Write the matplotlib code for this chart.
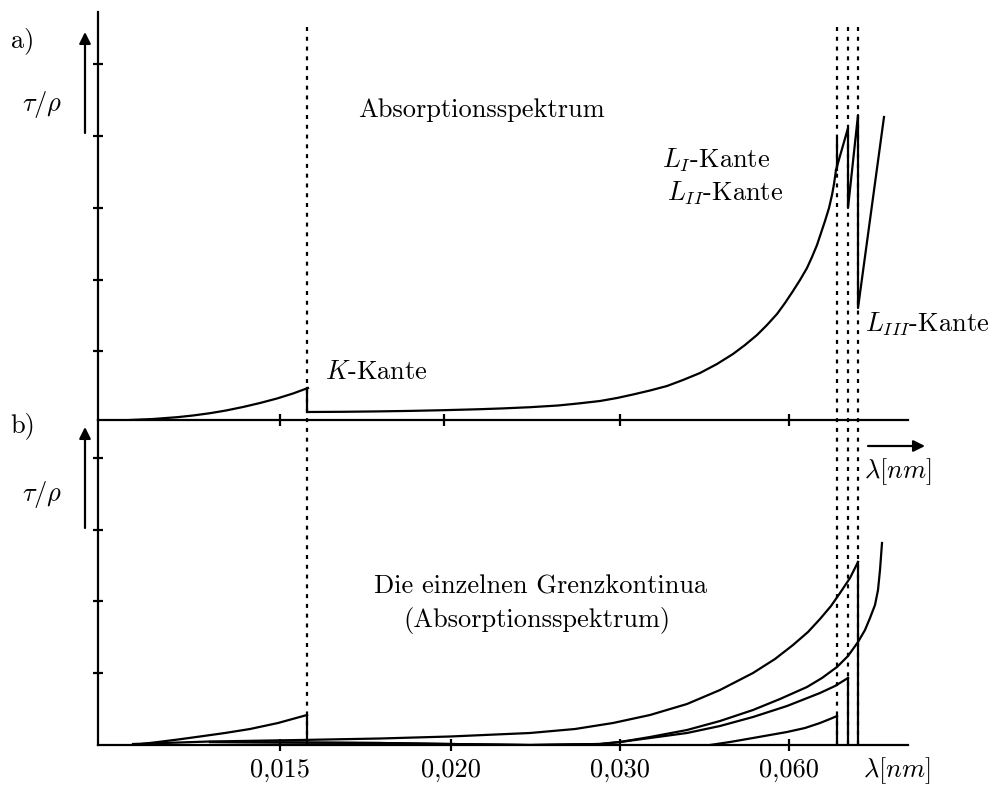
import matplotlib
matplotlib.use("Agg")
import matplotlib.pyplot as plt

plt.rcParams['font.family'] = ['cmr10', 'DejaVu Serif']
plt.rcParams['mathtext.fontset'] = 'cm'
plt.rcParams['axes.unicode_minus'] = False

# ---- schematic units: x = position along wavelength axis, y = tau/rho (arbitrary) ----
# tick positions / labels
xtick_pos_top = [182, 346, 522, 691]
xtick_pos_bot = [182, 353, 522, 691]
xtick_labels = ["0,015", "0,020", "0,030", "0,060"]
ytick_top = [69, 140, 212, 284, 356]
ytick_bot = [72, 144, 215, 287]

# edges
edge_K = 209
edges_L = [739, 750, 760]

# (a) total absorption spectrum
pre_K_x = [32, 55, 79, 95, 112, 128, 145, 162, 179, 195, 210]
pre_K_y = [0, 1, 2.8, 4.5, 6.8, 9.5, 13, 17, 21.5, 26.5, 32]
post_K_x = [210, 245, 280, 312, 345, 379, 405, 432, 460, 480, 502, 519, 535, 552, 569, 585,
            602, 619, 635, 647, 659, 669, 679, 687, 695, 702, 709, 714, 719, 723, 727, 731,
            734, 736, 738]
post_K_y = [8, 8.2, 8.6, 9.1, 9.8, 10.7, 11.6, 12.8, 14.5, 16.5, 19, 22, 25.5, 29.5, 34, 40,
            47, 56, 66, 75, 85, 95, 106, 117, 129, 140, 152, 163, 175, 187, 199, 212,
            225, 236, 250]
LI_jump_y = [250, 281]
zig_x = [738, 750, 750, 760, 760, 786]
zig_y = [250, 292, 212, 305, 112, 303]

# (b) individual continua
K_x = [35, 60, 80, 102, 127, 152, 180, 209]
K_y = [0, 3, 5.5, 8.5, 12, 16, 22, 30]
LIII_x = [35, 112, 202, 282, 352, 432, 477, 515, 552, 589, 622, 655, 677, 695, 710, 722,
          733, 742, 752, 760]
LIII_y = [1, 3.5, 5, 6.5, 8.5, 12, 16, 22, 30, 41, 55, 72, 86, 100, 113, 126,
          139, 152, 167, 183]
M_x = [112, 282, 352, 432, 502, 522, 552, 589, 622, 655, 682, 709, 724, 739, 750, 760,
       767, 772, 777, 780, 782, 784]
M_y = [3, 2, 1, 0, 1, 3, 8, 15, 24, 35, 46, 58, 67, 78, 89, 103,
       115, 127, 140, 155, 175, 202]
LII_x = [112, 282, 352, 432, 502, 522, 552, 589, 622, 655, 689, 722, 737, 750]
LII_y = [3, 2, 1, 0, 1, 3, 7, 12, 19, 28, 39, 52, 59, 67]
LI_x = [612, 632, 655, 672, 689, 707, 722, 732, 739]
LI_y = [0, 3, 7, 10, 13, 17, 22, 26, 29]

W, H = 996, 788
fig = plt.figure(figsize=(W / 100, H / 100), dpi=100)

def px_axes(left, top, right, bottom):
    return fig.add_axes([left / W, 1 - bottom / H, (right - left) / W, (bottom - top) / H])

ax1 = px_axes(98, 12, 908, 420)
ax2 = px_axes(98, 420, 908, 745)
ax1.set_xlim(0, 810); ax1.set_ylim(0, 408)
ax2.set_xlim(0, 810); ax2.set_ylim(0, 325)

LW = 1.6
for ax in (ax1, ax2):
    ax.patch.set_alpha(0)
    for s in ('top', 'right'):
        ax.spines[s].set_visible(False)
    for s in ('left', 'bottom'):
        ax.spines[s].set_linewidth(LW)
    ax.tick_params(axis='y', direction='inout', length=7, width=LW, labelleft=False)
    ax.tick_params(axis='x', direction='inout', length=9, width=LW)

ax1.set_xticks(xtick_pos_top); ax1.set_xticklabels([])
ax1.set_yticks(ytick_top)
ax2.set_yticks(ytick_bot)
ax2.set_xticks(xtick_pos_bot)
ax2.set_xticklabels(xtick_labels, fontsize=19)
ax2.tick_params(axis='x', pad=5)

kw = dict(color='black', lw=LW, solid_joinstyle='round')
# (a)
ax1.plot(pre_K_x, pre_K_y, **kw)
ax1.plot([edge_K, edge_K], [pre_K_y[-1], post_K_y[0]], **kw)
ax1.plot(post_K_x, post_K_y, **kw)
ax1.plot([edges_L[0], edges_L[0]], LI_jump_y, **kw)
ax1.plot(zig_x, zig_y, **kw)

# (b)
ax2.plot(K_x, K_y, **kw)
ax2.plot([K_x[-1], K_x[-1]], [K_y[-1], 0], **kw)
ax2.plot(LIII_x, LIII_y, **kw)
ax2.plot([LIII_x[-1], LIII_x[-1]], [LIII_y[-1], 0], **kw)
ax2.plot(M_x, M_y, **kw)
ax2.plot(LII_x, LII_y, **kw)
ax2.plot([LII_x[-1], LII_x[-1]], [LII_y[-1], 0], **kw)
ax2.plot(LI_x, LI_y, **kw)
ax2.plot([LI_x[-1], LI_x[-1]], [LI_y[-1], 0], **kw)

# dotted edge lines spanning both panels
for xe in [edge_K] + edges_L:
    ax1.plot([xe, xe], [393, -325], color='black', lw=1.6,
             linestyle=(0, (1.8, 2.6)), clip_on=False, zorder=1)

# arrows
arr = dict(arrowstyle='-|>', color='black', lw=1.6, mutation_scale=17,
           shrinkA=0, shrinkB=0)
ax1.annotate('', xy=(-13, 388), xytext=(-13, 287), xycoords='data', arrowprops=arr,
             annotation_clip=False)
ax2.annotate('', xy=(-13, 318), xytext=(-13, 217), xycoords='data', arrowprops=arr,
             annotation_clip=False)
ax2.annotate('', xy=(827, 299), xytext=(770, 299), xycoords='data', arrowprops=arr,
             annotation_clip=False)

fs = 19
t = dict(fontsize=fs, clip_on=False)
ax1.text(-75, 379, 'a)', ha='center', va='center', **t)
ax2.text(-75, 319, 'b)', ha='center', va='center', **t)
ax1.text(-56, 315, r'$\tau/\rho$', ha='center', va='center', **t)
ax2.text(-56, 250, r'$\tau/\rho$', ha='center', va='center', **t)
ax1.text(383, 310, 'Absorptionsspektrum', ha='center', va='center', **t)
ax1.text(564, 260, r'$L_I$-Kante', ha='left', va='center', **t)
ax1.text(569, 227, r'$L_{II}$-Kante', ha='left', va='center', **t)
ax1.text(767, 96, r'$L_{III}$-Kante', ha='left', va='center', **t)
ax1.text(227, 48, r'$K$-Kante', ha='left', va='center', **t)
ax2.text(443, 158, 'Die einzelnen Grenzkontinua', ha='center', va='center', **t)
ax2.text(439, 125, '(Absorptionsspektrum)', ha='center', va='center', **t)
ax2.text(800, 273, r'$\lambda[nm]$', ha='center', va='center', **t)
ax2.text(799, -26, r'$\lambda[nm]$', ha='center', va='center', **t)

fig.savefig('out.png', dpi=100)
